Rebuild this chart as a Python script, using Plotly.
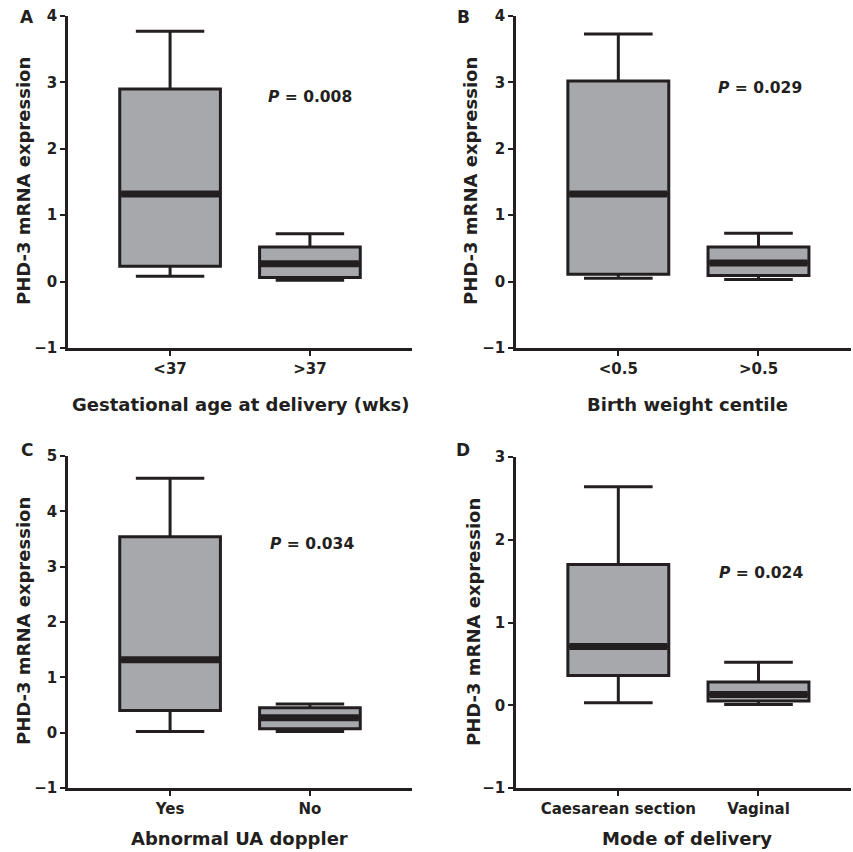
import plotly.graph_objects as go

W, H = 853, 852

# ---- data ----
cats_A = ["<37", ">37"]
q1_A = [0.23, 0.06]
med_A = [1.32, 0.27]
q3_A = [2.90, 0.52]
lo_A = [0.08, 0.02]
hi_A = [3.77, 0.72]

cats_B = ["<0.5", ">0.5"]
q1_B = [0.11, 0.09]
med_B = [1.32, 0.28]
q3_B = [3.02, 0.52]
lo_B = [0.05, 0.03]
hi_B = [3.73, 0.73]

cats_C = ["Yes", "No"]
q1_C = [0.40, 0.07]
med_C = [1.32, 0.27]
q3_C = [3.54, 0.45]
lo_C = [0.02, 0.02]
hi_C = [4.60, 0.52]

cats_D = ["Caesarean section", "Vaginal"]
q1_D = [0.36, 0.05]
med_D = [0.71, 0.13]
q3_D = [1.70, 0.28]
lo_D = [0.03, 0.01]
hi_D = [2.64, 0.52]

p_values = ["0.008", "0.029", "0.034", "0.024"]
panel_letters = ["A", "B", "C", "D"]
x_titles = ["Gestational age at delivery (wks)", "Birth weight centile",
            "Abnormal UA doppler", "Mode of delivery"]
y_title = "PHD-3 mRNA expression"
y_ranges = [(-1, 4), (-1, 4), (-1, 5), (-1, 3)]

FILL = "#a6a8ab"
LINE = "#231f20"
FONT = "DejaVu Sans"
BOXW = 0.72

def px(x):
    return x / W

def py(y):
    return 1 - y / H

panels = [
    dict(cats=cats_A, q1=q1_A, med=med_A, q3=q3_A, lo=lo_A, hi=hi_A,
         xd=[68, 412], yd=[16, 348], xr=[-0.73, 1.73],
         letter=(27, 17), ytitle=(23, 181), xtitle=(241, 405), p=(310, 97)),
    dict(cats=cats_B, q1=q1_B, med=med_B, q3=q3_B, lo=lo_B, hi=hi_B,
         xd=[516, 851], yd=[16, 348], xr=[-0.73, 1.66],
         letter=(463, 17), ytitle=(470, 181), xtitle=(687, 405), p=(760, 88)),
    dict(cats=cats_C, q1=q1_C, med=med_C, q3=q3_C, lo=lo_C, hi=hi_C,
         xd=[68, 412], yd=[456, 788], xr=[-0.73, 1.73],
         letter=(27, 450), ytitle=(23, 621), xtitle=(239, 838), p=(312, 544)),
    dict(cats=cats_D, q1=q1_D, med=med_D, q3=q3_D, lo=lo_D, hi=hi_D,
         xd=[516, 851], yd=[457, 788], xr=[-0.73, 1.66],
         letter=(463, 450), ytitle=(473, 622), xtitle=(687, 838), p=(761, 573)),
]

fig = go.Figure()
annotations = []
layout = {}

for i, pnl in enumerate(panels):
    n = "" if i == 0 else str(i + 1)
    xa, ya = "x" + n, "y" + n
    xs = list(range(len(pnl["cats"])))
    fig.add_trace(go.Box(
        x=xs, q1=pnl["q1"], median=pnl["med"], q3=pnl["q3"],
        lowerfence=pnl["lo"], upperfence=pnl["hi"],
        width=BOXW, whiskerwidth=0.68, boxpoints=False,
        fillcolor=FILL, line=dict(color=LINE, width=3),
        xaxis=xa, yaxis=ya, showlegend=False, hoverinfo="skip"))
    # thick median bars
    mx, my = [], []
    for xv, m in zip(xs, pnl["med"]):
        mx += [xv - BOXW / 2 + 0.01, xv + BOXW / 2 - 0.01, None]
        my += [m, m, None]
    fig.add_trace(go.Scatter(x=mx, y=my, mode="lines",
                             line=dict(color=LINE, width=7),
                             xaxis=xa, yaxis=ya, showlegend=False, hoverinfo="skip"))

    lo_r, hi_r = y_ranges[i]
    layout["xaxis" + n] = dict(
        domain=[px(pnl["xd"][0]), px(pnl["xd"][1])], range=pnl["xr"],
        anchor=ya, tickvals=xs, ticktext=pnl["cats"],
        showline=True, linecolor=LINE, linewidth=2.5,
        ticks="outside", ticklen=5, tickwidth=2, tickcolor=LINE,
        showgrid=False, zeroline=False,
        tickfont=dict(family=FONT, size=15, color=LINE, weight="bold"),
        automargin=False)
    layout["yaxis" + n] = dict(
        domain=[py(pnl["yd"][1]), py(pnl["yd"][0])], range=[lo_r, hi_r],
        anchor=xa, dtick=1, tick0=0,
        showline=True, linecolor=LINE, linewidth=2.5,
        ticks="outside", ticklen=5, tickwidth=2, tickcolor=LINE,
        showgrid=False, zeroline=False,
        tickfont=dict(family=FONT, size=15, color=LINE, weight="bold"),
        automargin=False)

    # panel letter
    annotations.append(dict(x=px(pnl["letter"][0]), y=py(pnl["letter"][1]),
                            xref="paper", yref="paper", text=panel_letters[i],
                            showarrow=False, xanchor="center", yanchor="middle",
                            font=dict(family=FONT, size=17, color=LINE, weight="bold")))
    # y title
    annotations.append(dict(x=px(pnl["ytitle"][0]), y=py(pnl["ytitle"][1]),
                            xref="paper", yref="paper", text=y_title, textangle=-90,
                            showarrow=False, xanchor="center", yanchor="middle",
                            font=dict(family=FONT, size=18, color=LINE, weight="bold")))
    # x title
    annotations.append(dict(x=px(pnl["xtitle"][0]), y=py(pnl["xtitle"][1]),
                            xref="paper", yref="paper", text=x_titles[i],
                            showarrow=False, xanchor="center", yanchor="middle",
                            font=dict(family=FONT, size=18, color=LINE, weight="bold")))
    # p-value
    annotations.append(dict(x=px(pnl["p"][0]), y=py(pnl["p"][1]),
                            xref="paper", yref="paper",
                            text="<i>P</i> = " + p_values[i],
                            showarrow=False, xanchor="center", yanchor="middle",
                            font=dict(family=FONT, size=15.5, color=LINE, weight="bold")))

fig.update_layout(
    width=W, height=H,
    margin=dict(l=0, r=0, t=0, b=0),
    paper_bgcolor="white", plot_bgcolor="white",
    annotations=annotations,
    **layout)

fig.write_html("out.html",
               config={"displayModeBar": False},
               post_script="document.body.style.margin='0';document.body.style.padding='0';")
